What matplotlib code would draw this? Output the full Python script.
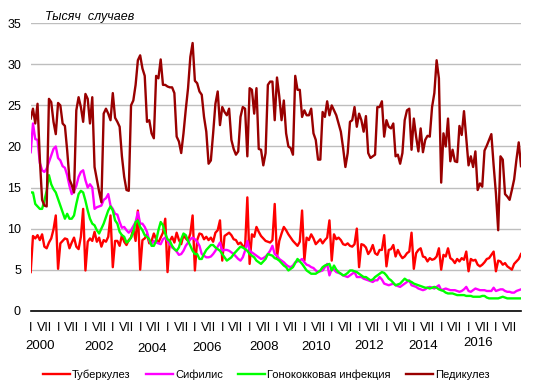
import numpy as np
import matplotlib.pyplot as plt

plt.switch_backend('agg')
plt.rcParams['font.family'] = ['Liberation Sans', 'DejaVu Sans']

# Monthly data, Jan 2000 - Dec 2017, thousand cases
tuberculosis = [
    4.7, 9.1, 8.8, 9.2, 8.6, 9.3, 7.8, 7.6, 8.3, 8.8, 9.9, 11.6,
    5.1, 8.2, 8.5, 8.8, 8.7, 7.6, 8.3, 8.9, 7.8, 7.5, 9.0, 12.4,
    4.9, 8.4, 8.8, 8.5, 9.6, 8.4, 8.9, 7.8, 8.6, 8.4, 9.0, 11.6,
    5.3, 8.5, 8.5, 7.9, 9.2, 8.4, 8.0, 8.6, 8.9, 10.0, 8.5, 12.2,
    5.0, 8.6, 8.8, 9.3, 8.2, 8.5, 9.4, 8.7, 8.3, 8.9, 9.5, 11.2,
    4.7, 8.5, 9.0, 8.3, 9.5, 8.6, 8.1, 9.2, 8.8, 8.5, 9.4, 11.6,
    4.9, 8.6, 9.4, 9.3, 8.7, 9.0, 8.6, 8.9, 8.4, 9.5, 9.8, 11.0,
    6.1, 9.1, 9.3, 9.5, 9.2, 8.7, 8.6, 8.1, 8.3, 7.9, 7.7, 13.8,
    5.7, 9.3, 9.0, 10.2, 9.6, 9.1, 8.8, 8.5, 8.4, 8.3, 8.6, 13.0,
    6.5, 8.5, 9.4, 10.2, 9.8, 9.3, 8.9, 8.5, 8.2, 7.9, 8.4, 12.2,
    6.1, 8.9, 8.6, 9.3, 8.8, 8.1, 8.4, 8.7, 8.2, 8.6, 8.9, 11.0,
    6.1, 9.3, 8.7, 8.9, 8.6, 8.1, 8.0, 8.2, 7.9, 7.8, 8.1, 10.0,
    5.3, 8.1, 8.0, 7.7, 6.9, 7.3, 8.0, 7.0, 6.8, 7.4, 7.4, 9.2,
    5.4, 7.4, 7.5, 8.0, 6.6, 7.4, 6.8, 6.4, 6.6, 7.0, 7.2, 9.5,
    5.1, 7.0, 7.4, 7.6, 6.6, 6.5, 6.0, 6.4, 6.2, 6.3, 6.6, 7.6,
    5.0, 6.8, 6.6, 7.6, 6.4, 6.2, 5.8, 6.3, 6.0, 6.4, 6.2, 7.2,
    4.8, 6.3, 6.1, 6.2, 5.6, 5.4, 5.6, 5.9, 6.3, 6.4, 6.8, 7.2,
    4.8, 6.1, 6.0, 5.6, 5.8, 5.4, 5.2, 5.0, 5.7, 6.0, 6.3, 6.9,
]
syphilis = [
    19.3, 22.8, 20.9, 20.8, 18.0, 17.1, 16.9, 17.3, 18.1, 18.9, 19.7, 20.0,
    18.6, 18.3, 17.6, 17.4, 16.5, 15.2, 14.2, 14.6, 15.2, 16.3, 16.9, 17.1,
    15.9, 15.0, 15.4, 15.0, 12.4, 12.6, 12.7, 12.8, 13.5, 13.7, 14.2, 12.8,
    12.4, 11.8, 11.7, 10.8, 10.1, 10.2, 9.8, 9.5, 9.8, 10.3, 10.8, 12.0,
    10.6, 10.6, 10.2, 9.6, 8.5, 8.1, 8.5, 8.3, 8.2, 8.1, 8.7, 8.9,
    8.5, 8.1, 7.7, 7.5, 7.2, 6.8, 6.9, 7.3, 7.9, 8.3, 8.7, 8.9,
    8.7, 8.4, 7.9, 6.9, 6.7, 6.5, 6.5, 6.6, 6.9, 7.3, 7.8, 8.3,
    7.3, 7.4, 7.4, 7.3, 7.1, 6.9, 6.6, 6.3, 6.1, 6.5, 7.3, 8.5,
    7.3, 7.1, 6.9, 6.7, 6.5, 6.3, 6.4, 6.6, 6.9, 7.3, 7.9, 6.9,
    6.7, 6.3, 6.1, 5.9, 5.6, 5.4, 5.3, 5.5, 5.9, 6.0, 6.1, 6.3,
    5.9, 5.6, 5.5, 5.3, 5.2, 4.9, 4.7, 4.8, 4.9, 5.3, 5.7, 4.3,
    5.1, 5.0, 4.7, 4.6, 4.5, 4.3, 4.2, 4.1, 4.3, 4.5, 4.7, 4.1,
    4.1, 4.1, 3.9, 3.8, 3.7, 3.6, 3.5, 3.7, 3.7, 4.1, 3.8, 3.3,
    3.2, 3.1, 3.2, 3.3, 3.1, 3.0, 2.9, 3.1, 3.3, 3.5, 3.7, 3.1,
    3.0, 2.9, 2.7, 2.6, 2.5, 2.6, 2.8, 2.9, 2.8, 2.7, 2.9, 3.1,
    2.5, 2.6, 2.7, 2.6, 2.5, 2.5, 2.5, 2.4, 2.3, 2.4, 2.6, 2.9,
    2.4, 2.3, 2.5, 2.7, 2.6, 2.5, 2.5, 2.5, 2.4, 2.4, 2.4, 2.8,
    2.4, 2.5, 2.6, 2.6, 2.4, 2.3, 2.3, 2.2, 2.2, 2.4, 2.5, 2.6,
]
gonorrhea = [
    14.4, 14.4, 13.0, 12.7, 12.4, 12.4, 13.4, 14.6, 16.5, 15.4, 14.8, 14.4,
    13.6, 12.8, 12.0, 11.2, 11.8, 11.2, 11.2, 11.6, 13.0, 14.2, 14.6, 14.4,
    13.4, 12.2, 11.2, 10.6, 10.4, 9.8, 9.4, 10.0, 10.6, 11.4, 12.2, 12.7,
    12.2, 11.0, 10.6, 9.6, 9.2, 9.0, 8.3, 8.5, 8.9, 9.6, 10.8, 11.0,
    10.2, 9.8, 9.2, 9.0, 8.7, 7.9, 7.9, 8.5, 9.8, 10.8, 10.4, 9.4,
    8.7, 8.5, 7.9, 7.5, 7.3, 7.7, 8.7, 9.4, 9.2, 8.5, 7.9, 7.3,
    6.9, 6.9, 6.3, 6.3, 6.9, 7.4, 7.7, 8.0, 8.0, 7.7, 7.5, 7.3,
    6.9, 6.5, 6.1, 6.3, 6.5, 6.9, 7.2, 7.5, 7.8, 7.7, 7.5, 7.3,
    6.9, 6.7, 6.5, 6.1, 5.9, 5.7, 6.0, 6.3, 6.9, 6.8, 6.7, 6.4,
    6.3, 6.1, 5.8, 5.5, 5.3, 4.9, 5.1, 5.3, 5.8, 6.3, 6.0, 5.7,
    5.3, 4.9, 4.7, 4.5, 4.5, 4.5, 4.7, 4.9, 5.3, 5.5, 5.6, 5.7,
    4.9, 5.5, 5.0, 4.7, 4.5, 4.3, 4.4, 4.6, 4.9, 4.9, 4.8, 4.7,
    4.5, 4.3, 4.1, 4.1, 3.9, 3.7, 3.8, 4.1, 4.3, 4.5, 4.7, 4.6,
    4.3, 3.9, 3.7, 3.4, 3.1, 3.2, 3.3, 3.6, 3.9, 3.7, 3.6, 3.5,
    3.3, 3.2, 3.1, 3.0, 2.9, 2.8, 2.8, 2.7, 2.8, 2.9, 2.8, 2.6,
    2.5, 2.4, 2.2, 2.1, 2.1, 2.1, 2.0, 1.9, 1.9, 1.9, 1.9, 1.8,
    1.8, 1.8, 1.7, 1.7, 1.7, 1.7, 1.8, 1.8, 1.6, 1.5, 1.5, 1.5,
    1.5, 1.5, 1.6, 1.7, 1.6, 1.5, 1.5, 1.5, 1.5, 1.5, 1.5, 1.5,
]
pediculosis = [
    23.4, 24.6, 22.8, 25.2, 18.5, 13.5, 12.8, 12.7, 25.8, 25.4, 23.0, 21.5,
    25.3, 25.0, 22.8, 22.5, 19.5, 16.0, 15.3, 14.4, 24.4, 26.0, 24.8, 23.0,
    26.4, 25.8, 22.8, 26.0, 17.5, 16.0, 14.5, 13.2, 24.0, 24.6, 24.0, 23.2,
    26.5, 23.5, 23.0, 22.4, 18.8, 16.3, 14.7, 14.6, 25.0, 25.6, 27.5, 30.5,
    31.1, 29.5, 28.6, 23.0, 23.2, 21.6, 21.0, 28.6, 28.3, 30.6, 27.5, 27.5,
    27.3, 27.2, 27.2, 26.5, 21.2, 20.6, 19.2, 21.6, 24.5, 27.1, 30.9, 32.6,
    28.0, 27.7, 26.7, 26.3, 23.6, 21.8, 17.9, 18.3, 21.6, 25.2, 26.7, 22.6,
    24.8, 24.2, 23.8, 24.6, 20.8, 19.7, 19.0, 19.4, 23.6, 24.8, 24.6, 18.8,
    27.1, 26.9, 24.0, 27.1, 19.7, 19.6, 17.7, 19.2, 27.5, 27.9, 27.9, 23.2,
    28.4, 26.1, 23.2, 25.6, 21.6, 20.0, 19.8, 19.0, 28.6, 26.9, 26.9, 23.6,
    24.4, 23.8, 23.8, 24.6, 21.6, 20.8, 18.4, 18.4, 24.2, 23.6, 25.5, 23.8,
    25.0, 24.4, 23.8, 22.8, 21.8, 19.8, 17.5, 19.2, 23.0, 23.2, 24.8, 22.4,
    24.0, 23.2, 21.8, 23.7, 19.2, 18.6, 18.8, 19.0, 24.8, 24.8, 25.5, 21.2,
    23.2, 22.4, 22.2, 22.8, 18.8, 19.0, 17.9, 19.2, 23.2, 24.4, 24.6, 19.6,
    23.4, 21.2, 19.4, 22.2, 19.3, 20.8, 21.3, 21.2, 24.8, 26.5, 30.5, 28.3,
    15.6, 21.6, 20.0, 23.4, 18.2, 19.6, 18.2, 18.1, 22.5, 21.4, 24.3, 21.0,
    17.7, 18.8, 17.5, 19.4, 14.7, 15.5, 15.1, 19.5, 20.1, 20.8, 21.5, 17.7,
    14.3, 9.8, 18.8, 18.4, 14.2, 13.9, 13.5, 14.7, 16.0, 18.4, 20.5, 17.6,
]
series_names = ['Туберкулез', 'Сифилис', 'Гонококковая инфекция', 'Педикулез']
series_colors = ['#FF0000', '#FF00FF', '#00FF00', '#990000']
month_labels = ['I', 'VII']
years = [2000, 2002, 2004, 2006, 2008, 2010, 2012, 2014, 2016]

# layout tweaks for the hand-placed year captions (month offset, y in px)
year_offsets = [3.9, 6.0, 5.2, 5.3, 6.3, 5.0, 4.4, 4.0, 4.0]
year_ypix = [345.7, 346.7, 349.0, 347.7, 346.5, 346.7, 345.7, 345.7, 343.3]

W, H = 536, 389
fig = plt.figure(figsize=(W / 100, H / 100), dpi=100)
ax = fig.add_axes([30.7 / W, 1 - 310.7 / H, (521.0 - 30.7) / W, (310.7 - 23.3) / H])

n = len(tuberculosis)
x = np.arange(n)
for data, name, color in zip([tuberculosis, syphilis, gonorrhea, pediculosis],
                             series_names, series_colors):
    ax.plot(x, data, color=color, lw=1.7, label=name)

ax.set_xlim(0, n - 1)
ax.set_ylim(0, 35)
ax.set_yticks(range(0, 36, 5))
ax.set_xticks(np.arange(0, n, 6))
ax.set_xticklabels(month_labels * (n // 12))
ax.tick_params(axis='both', length=0, labelsize=9, colors='black')
ax.tick_params(axis='y', pad=7)
ax.tick_params(axis='x', pad=8)
ax.yaxis.grid(True, color='#BEBEBE', lw=1.0)
ax.set_axisbelow(True)
for side in ['left', 'right', 'top']:
    ax.spines[side].set_visible(False)
ax.spines['bottom'].set_color('black')
ax.spines['bottom'].set_linewidth(1.2)

for yr, off, yp in zip(years, year_offsets, year_ypix):
    xpix = 30.7 + ((yr - 2000) * 12 + off) * (521.0 - 30.7) / (n - 1)
    fig.text(xpix / W, 1 - yp / H, str(yr), ha='center', va='center', fontsize=9.5)

fig.text(45 / W, 1 - 17 / H, 'Тысяч  случаев', style='italic', ha='left',
         va='center', fontsize=9)

fig.legend(loc='center', bbox_to_anchor=(0.497, 1 - 375 / H), ncol=4,
           frameon=False, fontsize=8, handlelength=2.4, handletextpad=0.2,
           columnspacing=1.4)

fig.savefig('out.png', dpi=100)
